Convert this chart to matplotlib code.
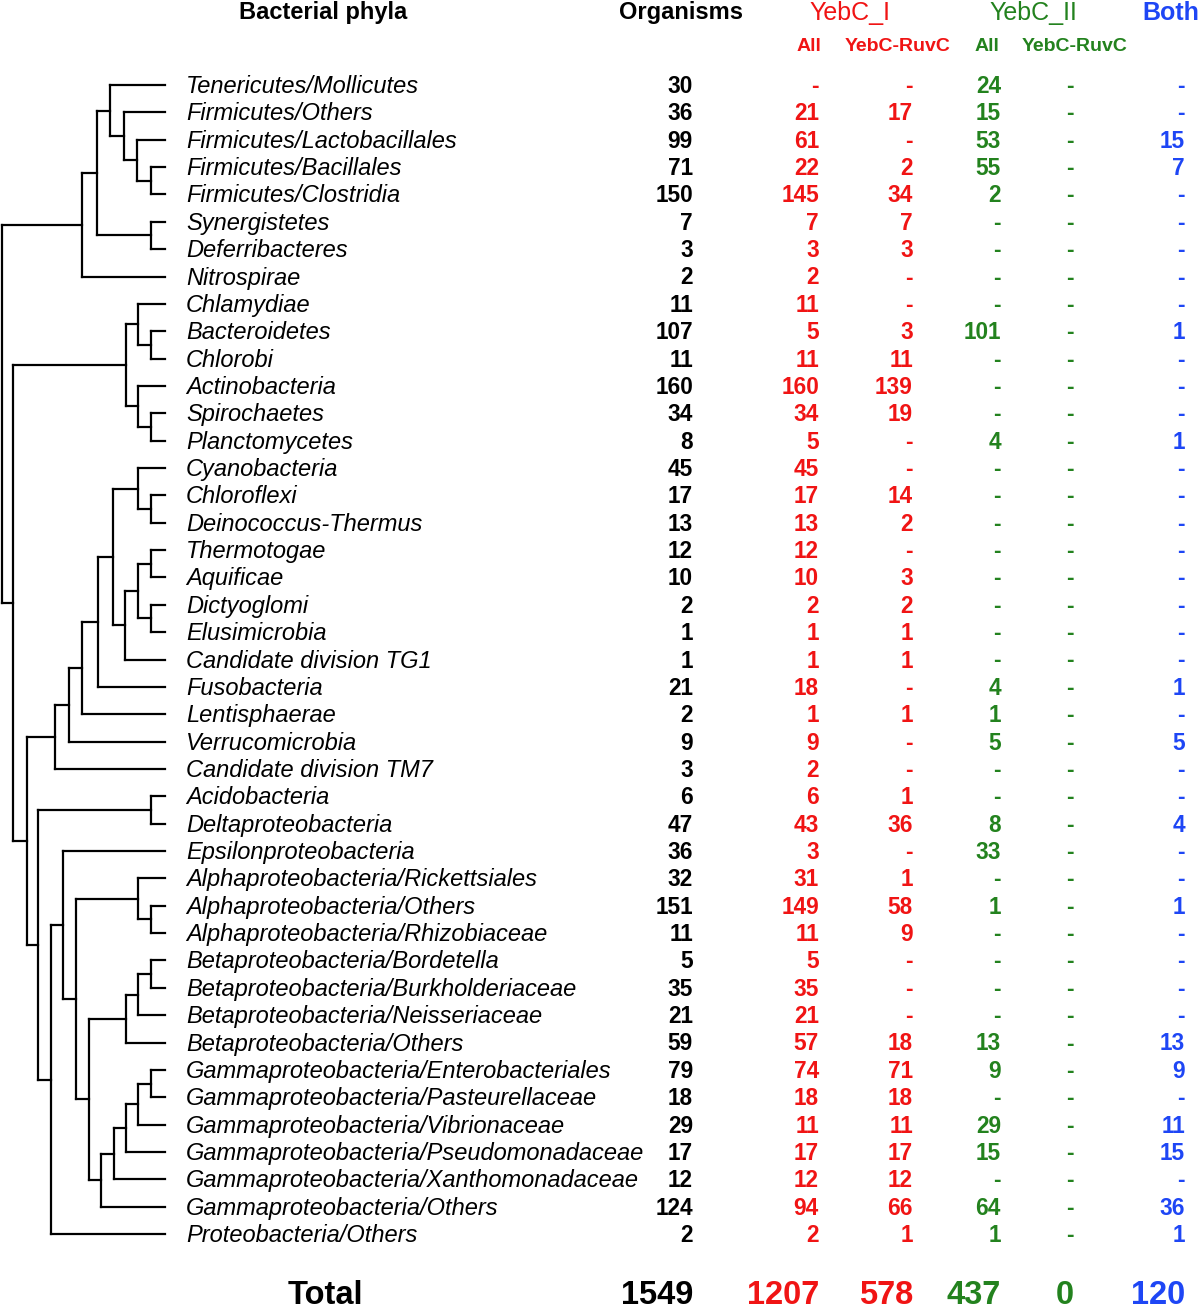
import numpy as np
import matplotlib
matplotlib.use("Agg")
import matplotlib.pyplot as plt

plt.rcParams['font.family'] = ['Liberation Sans', 'DejaVu Sans']

# data
phyla = ["Tenericutes/Mollicutes", "Firmicutes/Others", "Firmicutes/Lactobacillales",
         "Firmicutes/Bacillales", "Firmicutes/Clostridia", "Synergistetes", "Deferribacteres",
         "Nitrospirae", "Chlamydiae", "Bacteroidetes", "Chlorobi", "Actinobacteria",
         "Spirochaetes", "Planctomycetes", "Cyanobacteria", "Chloroflexi", "Deinococcus-Thermus",
         "Thermotogae", "Aquificae", "Dictyoglomi", "Elusimicrobia", "Candidate division TG1",
         "Fusobacteria", "Lentisphaerae", "Verrucomicrobia", "Candidate division TM7",
         "Acidobacteria", "Deltaproteobacteria", "Epsilonproteobacteria",
         "Alphaproteobacteria/Rickettsiales", "Alphaproteobacteria/Others",
         "Alphaproteobacteria/Rhizobiaceae", "Betaproteobacteria/Bordetella",
         "Betaproteobacteria/Burkholderiaceae", "Betaproteobacteria/Neisseriaceae",
         "Betaproteobacteria/Others", "Gammaproteobacteria/Enterobacteriales",
         "Gammaproteobacteria/Pasteurellaceae", "Gammaproteobacteria/Vibrionaceae",
         "Gammaproteobacteria/Pseudomonadaceae", "Gammaproteobacteria/Xanthomonadaceae",
         "Gammaproteobacteria/Others", "Proteobacteria/Others"]
organisms = [30, 36, 99, 71, 150, 7, 3, 2, 11, 107, 11, 160, 34, 8, 45, 17, 13, 12, 10, 2, 1, 1,
             21, 2, 9, 3, 6, 47, 36, 32, 151, 11, 5, 35, 21, 59, 79, 18, 29, 17, 12, 124, 2]
yebc1_all = [None, 21, 61, 22, 145, 7, 3, 2, 11, 5, 11, 160, 34, 5, 45, 17, 13, 12, 10, 2, 1, 1,
             18, 1, 9, 2, 6, 43, 3, 31, 149, 11, 5, 35, 21, 57, 74, 18, 11, 17, 12, 94, 2]
yebc1_ruvc = [None, 17, None, 2, 34, 7, 3, None, None, 3, 11, 139, 19, None, None, 14, 2, None,
              3, 2, 1, 1, None, 1, None, None, 1, 36, None, 1, 58, 9, None, None, None, 18,
              71, 18, 11, 17, 12, 66, 1]
yebc2_all = [24, 15, 53, 55, 2, None, None, None, None, 101, None, None, None, 4, None, None,
             None, None, None, None, None, None, 4, 1, 5, None, None, 8, 33, None, 1, None,
             None, None, None, 13, 9, None, 29, 15, None, 64, 1]
yebc2_ruvc = [None] * 43
both = [None, None, 15, 7, None, None, None, None, None, 1, None, None, None, 1, None, None,
        None, None, None, None, None, None, 1, None, 5, None, None, 4, None, None, 1, None,
        None, None, None, 13, 9, None, 11, 15, None, 36, 1]
totals = [1549, 1207, 578, 437, 0, 120]

# cladogram: (depth, child, child), leaves are row indices
tree = (2,
        (82, (97, (110, 0, (124, 1, (137, 2, (151, 3, 4)))), (151, 5, 6)), 7),
        (13,
         (126, (138, 8, (151, 9, 10)), (138, 11, (151, 12, 13))),
         (27,
          (55, (69, (82, (98, (113, (138, 14, (151, 15, 16)),
                               (125, (138, (151, 17, 18), (151, 19, 20)), 21)),
                          22), 23), 24), 25),
          (38, (151, 26, 27),
           (51,
            (63, 28,
             (76, (138, 29, (151, 30, 31)),
              (89, (126, (138, (151, 32, 33), 34), 35),
               (101, (114, (126, (138, (151, 36, 37), 38), 39), 40), 41)))),
            42)))))

red = '#f01414'
green = '#23821e'
blue = '#1e46f5'

fig = plt.figure(figsize=(12, 13.12), dpi=100)
ax = fig.add_axes([0, 0, 1, 1])
ax.set_xlim(0, 1200)
ax.set_ylim(1312, 0)
ax.axis('off')

row_y = 85 + np.arange(len(phyla)) * (1234 - 85) / (len(phyla) - 1)
leaf_x = 165
lw = 1.6


def draw(node):
    # returns y of this node, draws its branches
    if isinstance(node, int):
        return row_y[node]
    x, a, b = node
    ys = []
    for ch in (a, b):
        y = draw(ch)
        cx = leaf_x if isinstance(ch, int) else ch[0]
        ax.plot([x, cx], [y, y], color='black', lw=lw, solid_capstyle='projecting')
        ys.append(y)
    ax.plot([x, x], ys, color='black', lw=lw, solid_capstyle='projecting')
    return (ys[0] + ys[1]) / 2


draw(tree)

# table
cols = [organisms, yebc1_all, yebc1_ruvc, yebc2_all, yebc2_ruvc, both]
col_right = [693, 819, 913, 1001, 1074, 1185]
col_color = ['black', red, red, green, green, blue]
base = 8
for i, name in enumerate(phyla):
    ax.text(186, row_y[i] + base, name, fontsize=17, style='italic',
            ha='left', va='baseline')
    for vals, xr, c in zip(cols, col_right, col_color):
        v = vals[i]
        ax.text(xr, row_y[i] + base, '-' if v is None else str(v), fontsize=16.3,
                fontweight='bold', color=c, ha='right', va='baseline')

# headers
ax.text(323, 1, 'Bacterial phyla', fontsize=17, fontweight='bold', ha='center', va='top')
ax.text(681, 1, 'Organisms', fontsize=17, fontweight='bold', ha='center', va='top')
ax.text(850, 1, 'YebC_I', fontsize=18, color=red, ha='center', va='top')
ax.text(1033, 1, 'YebC_II', fontsize=18, color=green, ha='center', va='top')
ax.text(1199, 1, 'Both', fontsize=18, fontweight='bold', color=blue, ha='right', va='top')
for xc, lab, c in [(809, 'All', red), (898, 'YebC-RuvC', red),
                   (987, 'All', green), (1075, 'YebC-RuvC', green)]:
    ax.text(xc, 51, lab, fontsize=14, fontweight='bold', color=c, ha='center', va='baseline')

# totals
ax.text(325, 1311, 'Total', fontsize=23.5, fontweight='bold', ha='center', va='bottom')
for t, xr, c in zip(totals, col_right, col_color):
    ax.text(xr, 1311, str(t), fontsize=23.5, fontweight='bold', color=c, ha='right', va='bottom')

fig.savefig('out.png', dpi=100)
